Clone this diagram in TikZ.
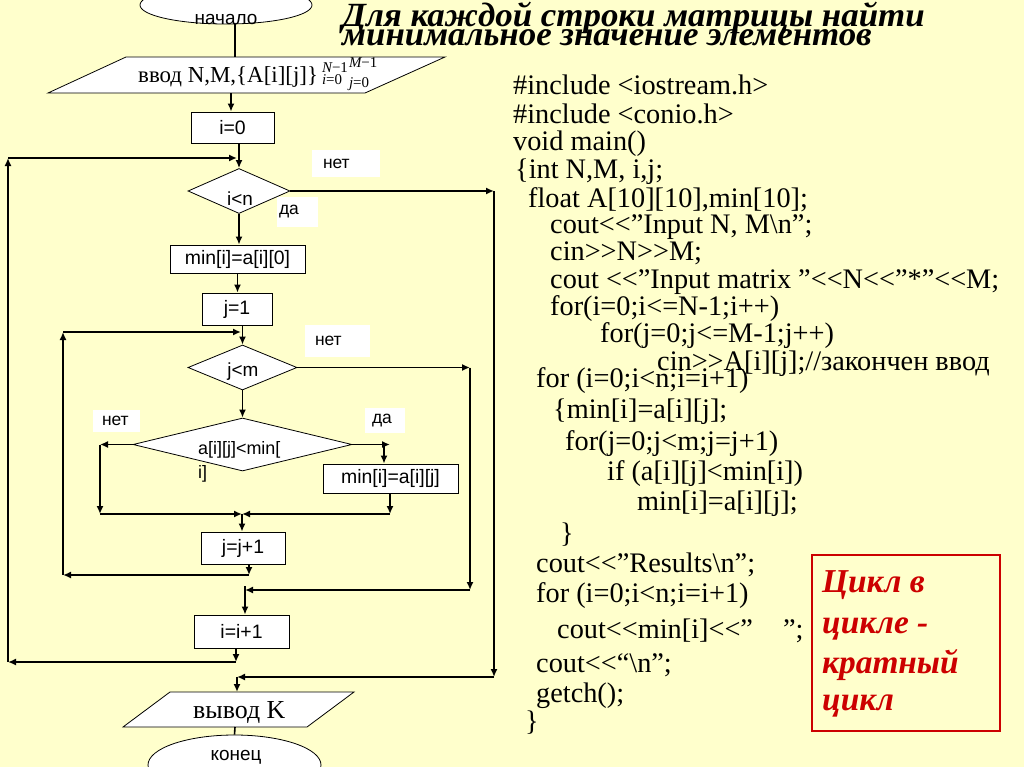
\documentclass[tikz,border=0pt]{standalone}
\usepackage{fontspec}
\setmainfont{Liberation Serif}
\newfontfamily\sansf{Liberation Sans}
\usetikzlibrary{arrows.meta,shapes.geometric}
\definecolor{bgc}{RGB}{255,255,204}
\definecolor{redc}{RGB}{204,0,0}
\newcommand\LL{<\kern0pt<}
\newcommand\GG{>\kern0pt>}
\newcommand\scr{\fontsize{15}{15}\selectfont}
\begin{document}
\begin{tikzpicture}[x=1bp,y=-1bp,
  conn/.style={line width=1.6bp,-{Latex[length=8bp,width=7bp]}},
  plain/.style={line width=1.6bp},
  blk/.style={draw,line width=0.8bp,fill=white,rectangle,inner sep=0pt,font=\sansf\fontsize{19.5}{20}\selectfont},
  dia/.style={draw,line width=0.8bp,fill=white,diamond,inner sep=0pt},
  oval/.style={draw,line width=0.8bp,fill=white,ellipse,inner sep=0pt},
  lbl/.style={fill=white,inner ysep=0pt,align=left,font=\sansf\fontsize{17.5}{18}\selectfont},
  ftxt/.style={inner sep=0pt,font=\sansf\fontsize{19}{20}\selectfont},
  code/.style={anchor=base west,inner sep=0pt,font=\fontsize{28.4}{30}\selectfont},
  ttl/.style={anchor=base west,inner sep=0pt,font=\fontsize{34}{36}\selectfont\bfseries\itshape},
  rtxt/.style={anchor=base west,inner sep=0pt,text=redc,font=\fontsize{33.5}{34}\selectfont\bfseries\itshape},
]
\useasboundingbox (0,0) rectangle (1024,767);
\fill[bgc] (0,0) rectangle (1024,767);
\clip (0,0) rectangle (1024,767);

% ---------- title ----------
\node[ttl,xscale=1.03] (title1) at (342,27) {Для каждой строки матрицы найти};
\node[ttl,xscale=1.03] (title2) at (342,46) {минимальное значение элементов};

% ---------- flowchart nodes ----------
\node[oval,minimum width=172bp,minimum height=38bp] (start) at (226,5) {};
\node[ftxt] (starttxt) at (226,20) {начало};

\coordinate (inTL) at (126,57); \coordinate (inTR) at (445,57);
\coordinate (inBR) at (365,93); \coordinate (inBL) at (48,93);
\filldraw[fill=white,line width=0.8bp] (inTL) -- (inTR) -- (inBR) -- (inBL) -- cycle;
\coordinate (inT) at (235,57); \coordinate (inB) at (231,93);
\node[anchor=base west,inner sep=0pt,font=\fontsize{23}{24}\selectfont] (intxt) at (138,83)
  {ввод N,M,\{A[i][j]\}\kern4bp\rlap{\raisebox{10bp}{\scr\itshape N\upshape−1}}\rlap{\raisebox{-2bp}{\scr\itshape i\upshape=0}}\kern27bp\rlap{\raisebox{15bp}{\scr\itshape M\upshape−1}}\raisebox{-5bp}{\scr\itshape j\upshape=0}};

\node[blk,minimum width=83bp,minimum height=31bp] (i0) at (232.5,127.5) {i=0};
\node[dia,minimum width=102bp,minimum height=45bp] (d1) at (239,191) {};
\node[ftxt] (d1txt) at (240,199) {i<n};
\node[blk,minimum width=135bp,minimum height=28bp] (minA0) at (237.5,259) {min[i]=a[i][0]};
\node[blk,minimum width=70bp,minimum height=32bp] (j1) at (237,309) {j=1};
\node[dia,minimum width=109bp,minimum height=45bp] (d2) at (242.5,367.5) {};
\node[ftxt] (d2txt) at (243,372) {j<m};
\node[dia,minimum width=219bp,minimum height=53bp] (d3) at (242.5,444.5) {};
\node[anchor=base west,inner sep=0pt,font=\sansf\fontsize{18}{19}\selectfont] (d3txt1) at (198,454) {a[i][j]<min[};
\node[anchor=base west,inner sep=0pt,font=\sansf\fontsize{18}{19}\selectfont] (d3txt2) at (198,478) {i]};
\node[blk,minimum width=135bp,minimum height=29bp] (minAij) at (390.5,478.5) {min[i]=a[i][j]};
\node[blk,minimum width=84bp,minimum height=32bp] (jj) at (243,548) {j=j+1};
\node[blk,minimum width=95bp,minimum height=33bp] (ii) at (241.5,631.5) {i=i+1};

\coordinate (outTL) at (170,692); \coordinate (outTR) at (354,692);
\coordinate (outBR) at (307,727); \coordinate (outBL) at (123,727);
\filldraw[fill=white,line width=0.8bp] (outTL) -- (outTR) -- (outBR) -- (outBL) -- cycle;
\coordinate (outT) at (237,692); \coordinate (outB) at (235,727);
\node[anchor=base west,inner sep=0pt,font=\fontsize{26}{27}\selectfont] (outtxt) at (193,718) {вывод K};

\node[oval,minimum width=173bp,minimum height=60bp] (end) at (234.5,765) {};
\node[ftxt] (endtxt) at (236,757) {конец};

% ---------- labels ----------
\node[lbl,text width=46bp,inner xsep=11bp,minimum height=27bp] (net1) at (346,163.5) {нет};
\node[lbl,text width=37bp,inner xsep=2bp,minimum height=30bp] (da1) at (297.5,212) {да};
\node[lbl,text width=45bp,inner xsep=10bp,minimum height=32bp] (net2) at (337.5,341) {нет};
\node[lbl,text width=29bp,inner xsep=9bp,minimum height=22bp] (net3) at (116.5,421) {нет};
\node[lbl,text width=26bp,inner xsep=7bp,minimum height=25bp] (da2) at (385,420.5) {да};

% ---------- bend coordinates ----------
\coordinate (L1top) at (8,158);   \coordinate (L1bot) at (8,662);
\coordinate (m1) at (237,158);    \coordinate (m1b) at (236,662);
\coordinate (R1top) at (494,191); \coordinate (R1bot) at (494,677);
\coordinate (m5) at (237,677);
\coordinate (L2top) at (63,332);  \coordinate (L2bot) at (63,575);
\coordinate (m2) at (241,332);    \coordinate (m2b) at (249,575);
\coordinate (R2top) at (470,367.5); \coordinate (R2bot) at (470,590);
\coordinate (m4) at (245,590);
\coordinate (L3a) at (100,444.5); \coordinate (L3b) at (100,514);
\coordinate (R3a) at (390,444.5); \coordinate (R3b) at (384,444.5);
\coordinate (R3c) at (390,514);
\coordinate (m3) at (242,514);

% ---------- connectors ----------
\draw[plain] (start.south -| inT) -- (inT);
\draw[conn] (inB) -- (inB |- i0.north);
\draw[conn] (i0.south -| d1.north) -- (d1.north);
\draw[conn] (L1bot) -- (L1top);
\draw[conn] (L1top) -- (m1);
\draw[conn] (d1.east) -- (R1top);
\draw[conn] (R1top) -- (R1bot);
\draw[conn] (R1bot) -- (m5);
\draw[conn] (m5) -- (outT);
\draw[conn] (d1.south) -- (d1.south |- minA0.north);
\draw[conn] (minA0.south) -- (minA0.south |- j1.north);
\draw[conn] (j1.south -| d2.north) -- (d2.north);
\draw[conn] (L2bot) -- (L2top);
\draw[conn] (L2top) -- (m2);
\draw[conn] (d2.east) -- (R2top);
\draw[conn] (R2top) -- (R2bot);
\draw[conn] (R2bot) -- (m4);
\draw[conn] ([yshift=4bp]m4) -- (m4 |- ii.north);
\draw[conn] (d2.south) -- (d3.north);
\draw[conn] (d3.west) -- (L3a);
\draw[conn] (L3a) -- (L3b);
\draw[conn] (L3b) -- (m3);
\draw[conn] (d3.east) -- (R3a);
\draw[conn] (R3b) -- (R3b |- minAij.north);
\draw[conn] (minAij.south -| R3c) -- (R3c);
\draw[conn] (R3c) -- (m3);
\draw[conn] (m3) -- (m3 |- jj.north);
\draw[conn] (jj.south -| m2b) -- (m2b);
\draw[conn] (m2b) -- (L2bot);
\draw[conn] (ii.south -| m1b) -- (m1b);
\draw[conn] (m1b) -- (L1bot);
\draw[plain] (outB) -- (end.north);

% ---------- code ----------
\node[code] (c1) at (513,95) {\#include <iostream.h>};
\node[code] (c2) at (513,123) {\#include <conio.h>};
\node[code] (c3) at (513,150) {void main()};
\node[code] (c4) at (515,178) {\{int N,M, i,j;};
\node[code] (c5) at (528,207) {float A[10][10],min[10];};
\node[code] (c6) at (550,233) {cout\LL”Input N, M\textbackslash n”;};
\node[code] (c7) at (550,260) {cin\GG N\GG M;};
\node[code] (c8) at (550,288) {cout \LL”Input matrix ”\LL N\LL”*”\LL M;};
\node[code] (c9) at (550,315) {for(i=0;i<=N-1;i++)};
\node[code] (c10) at (600,342) {for(j=0;j<=M-1;j++)};
\node[code] (c11) at (657,370) {cin\GG A[i][j];//закончен ввод};
\node[code] (c12) at (536,387) {for (i=0;i<n;i=i+1)};
\node[code] (c13) at (553,418) {\{min[i]=a[i][j];};
\node[code] (c14) at (565,450) {for(j=0;j<m;j=j+1)};
\node[code] (c15) at (607,480) {if (a[i][j]<min[i])};
\node[code] (c16) at (637,510) {min[i]=a[i][j];};
\node[code] (c17) at (560,542) {\}};
\node[code] (c18) at (536,572) {cout\LL”Results\textbackslash n”;};
\node[code] (c19) at (536,602) {for (i=0;i<n;i=i+1)};
\node[code] (c20) at (557,638) {cout\LL min[i]\LL”\hspace{30bp}”;};
\node[code] (c21) at (536,672) {cout\LL“\textbackslash n”;};
\node[code] (c22) at (536,702) {getch();};
\node[code] (c23) at (525,730) {\}};

% ---------- red box ----------
\node[draw=redc,line width=2bp,minimum width=188bp,minimum height=176bp,inner sep=0pt] (rbox) at (906,643) {};
\node[rtxt] (r1) at (822,592) {Цикл в};
\node[rtxt] (r2) at (822,633) {цикле -};
\node[rtxt] (r3) at (822,673) {кратный};
\node[rtxt] (r4) at (822,710) {цикл};
\end{tikzpicture}
\end{document}
